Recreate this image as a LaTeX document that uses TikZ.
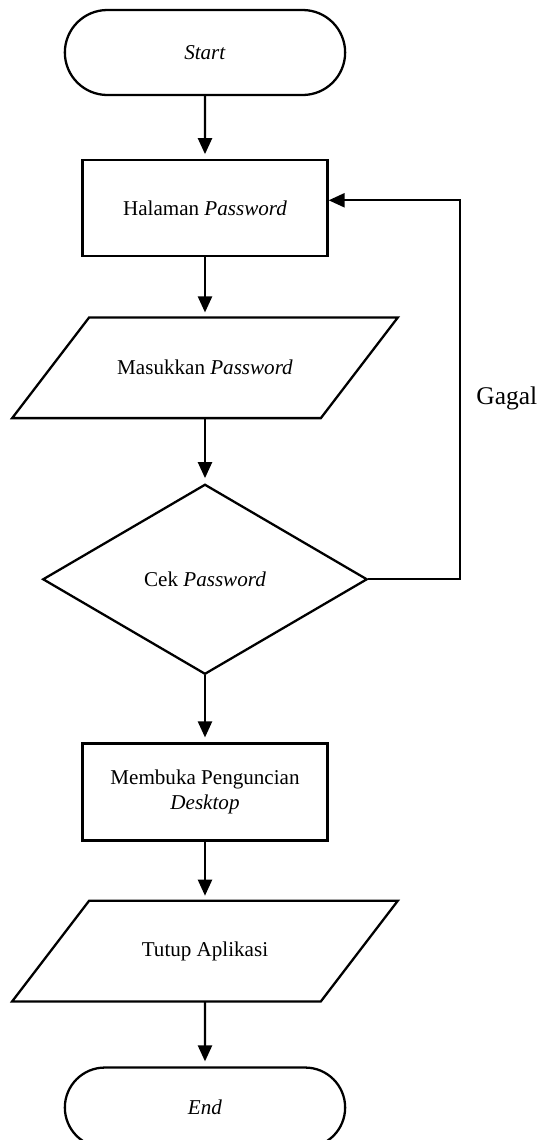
\documentclass[tikz,border=0pt]{standalone}
\usepackage{fontspec}
\setmainfont{Liberation Serif}
\usetikzlibrary{shapes,positioning,arrows.meta}

\begin{document}
\begin{tikzpicture}[
        font=\fontsize{12pt}{14.5pt}\selectfont,
        terminal/.style={rounded rectangle, draw, line width=1.3pt, minimum width=58.4mm, minimum height=17mm},
        process/.style={rectangle, draw, line width=1.3pt, minimum width=49mm, minimum height=19.2mm, align=center},
        io/.style={rectangle, minimum width=61.6mm, minimum height=20mm},
        decision/.style={diamond, draw, line width=1.3pt, minimum width=64.9mm, minimum height=38mm},
        arrow/.style={-{Triangle[length=3.2mm, width=2.8mm]}, line width=1.3pt},
        flow/.style={arrow, shorten >=1mm}
    ]
        \useasboundingbox (-41mm,10.5mm) rectangle (66.6mm,-217.5mm);

        \node[terminal] (start) {\textit{Start}};
        \node[process, below=12.6mm of start] (halaman) {Halaman \textit{Password}};
        \node[io, below=12mm of halaman] (masuk) {Masukkan \textit{Password}};
        \node[decision, below=13mm of masuk] (cek) {Cek \textit{Password}};
        \node[process, below=13.4mm of cek, minimum height=19.4mm] (buka) {Membuka Penguncian\\\textit{Desktop}};
        \node[io, below=11.8mm of buka] (tutup) {Tutup Aplikasi};
        \node[terminal, below=13mm of tutup, minimum height=16mm] (end) {\textit{End}};

        % jajaran genjang input/output
        \foreach \n in {masuk,tutup}
            \draw[line width=1.3pt] ([xshift=7.7mm]\n.north west) -- ([xshift=7.7mm]\n.north east)
                -- ([xshift=-7.7mm]\n.south east) -- ([xshift=-7.7mm]\n.south west) -- cycle;

        \draw[flow] (start) -- (halaman);
        \draw[flow] (halaman) -- (masuk);
        \draw[flow] (masuk) -- (cek);
        \draw[flow] (cek) -- (buka);
        \draw[flow] (buka) -- (tutup);
        \draw[flow] (tutup) -- (end);

        % gagal kembali ke halaman password
        \draw[arrow] (cek.east) -- ++(18.3mm,0) |- node[pos=0.238, right=1.9mm, font=\fontsize{14.5pt}{17pt}\selectfont] (gagal) {Gagal} ([yshift=1.6mm]halaman.east);
    \end{tikzpicture}
\end{document}
